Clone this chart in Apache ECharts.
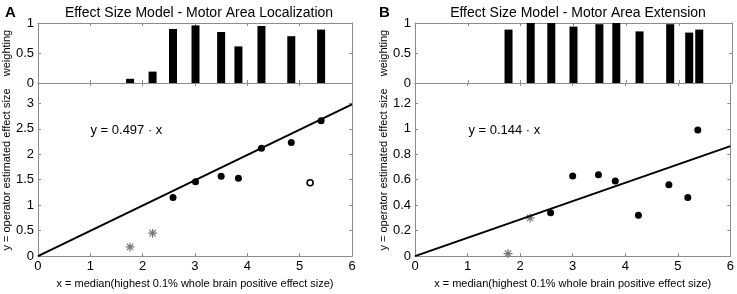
<!DOCTYPE html>
<html>
<head>
<meta charset="utf-8">
<script src="https://cdn.jsdelivr.net/npm/echarts@6/dist/echarts.min.js"></script>
<style>
  html, body { margin: 0; padding: 0; background: #fff; }
  #chart { width: 737px; height: 294px; }
</style>
</head>
<body>
<div id="chart"></div>
<script>
// panel A - localization
var locStarX = [1.76, 2.19];
var locStarY = [0.18, 0.45];
var locDotX = [2.58, 3.01, 3.5, 3.83, 4.27, 4.84, 5.41];
var locDotY = [1.15, 1.46, 1.57, 1.53, 2.12, 2.23, 2.66];
var locOpenX = [5.2];
var locOpenY = [1.44];
var locBarX = [1.76, 2.19, 2.58, 3.01, 3.5, 3.83, 4.27, 4.84, 5.41];
var locBarW = [0.07, 0.19, 0.9, 0.96, 0.85, 0.61, 0.95, 0.78, 0.89];
var locSlope = 0.497;

// panel B - extension
var extStarX = [1.77, 2.19];
var extStarY = [0.02, 0.30];
var extDotX = [2.58, 3.0, 3.49, 3.81, 4.25, 4.83, 5.19, 5.38];
var extDotY = [0.34, 0.63, 0.64, 0.59, 0.32, 0.56, 0.46, 0.99];
var extBarX = [1.77, 2.19, 2.58, 3.0, 3.49, 3.81, 4.25, 4.83, 5.19, 5.38];
var extBarW = [0.89, 1, 1, 0.94, 0.98, 1, 0.86, 0.98, 0.84, 0.89];
var extSlope = 0.144;

var titles = ['Effect Size Model - Motor Area Localization', 'Effect Size Model - Motor Area Extension'];
var xName = 'x = median(highest 0.1% whole brain positive effect size)';
var yNameTop = 'weighting';
var yNameBottom = 'y = operator estimated effect size';

var FONT = 'Liberation Sans';
var AXIS_COLOR = '#8c8c8c';
var STAR = 'path://M0,-5L0,5M-5,0L5,0M-3.5,-3.5L3.5,3.5M-3.5,3.5L3.5,-3.5';

var zip = function(xs, ys){
    var out = [];
    for (var i = 0; i < xs.length; i++) out.push([xs[i], ys[i]]);
    return out;
};

var grids = [
    {left: 37, top: 23, width: 315, height: 60},
    {left: 37, top: 83, width: 315, height: 179},
    {left: 415, top: 23, width: 317, height: 60},
    {left: 415, top: 83, width: 317, height: 179}
];

var xAxes = [];
var yAxes = [];

var baseAxis = function(extra){
    var a = {
        type: 'value',
        axisLine: {show: true, onZero: false, lineStyle: {color: AXIS_COLOR, width: 1}},
        axisTick: {show: true, inside: true, length: 3, lineStyle: {color: AXIS_COLOR}},
        splitLine: {show: false},
        axisLabel: {show: false}
    };
    for (var k in extra) a[k] = extra[k];
    return a;
};

var yMax = [1, 3.4, 1, 1.36];
var yInt = [0.5, 0.5, 0.5, 0.2];

for (var g = 0; g < 4; g++) {
    var isBottom = (g % 2 === 1);
    xAxes.push(baseAxis({
        gridIndex: g, position: 'bottom', min: 0, max: 6, interval: 1,
        name: isBottom ? xName : '',
        nameLocation: 'middle', nameGap: 17,
        nameTextStyle: {fontFamily: FONT, fontSize: 11, color: '#000'},
        axisLabel: {show: isBottom, margin: 4, fontFamily: FONT, fontSize: 13, color: '#000'}
    }));
    xAxes.push(baseAxis({gridIndex: g, position: 'top', min: 0, max: 6, interval: 1}));
    yAxes.push(baseAxis({
        gridIndex: g, position: 'left', min: 0, max: yMax[g], interval: yInt[g],
        name: isBottom ? yNameBottom : yNameTop,
        nameLocation: 'middle', nameGap: 24, nameRotate: 90,
        nameTextStyle: {fontFamily: FONT, fontSize: 11, color: '#000'},
        axisLabel: {show: true, margin: 4, fontFamily: FONT, fontSize: 13, color: '#000', showMaxLabel: yMax[g] === 1}
    }));
    yAxes.push(baseAxis({gridIndex: g, position: 'right', min: 0, max: yMax[g], interval: yInt[g]}));
}

var panelSeries = function(gTop, gBot, barX, barW, starX, starY, dotX, dotY, openX, openY, slope, eq, eqPos){
    var s = [];
    s.push({
        type: 'bar', xAxisIndex: gTop * 2, yAxisIndex: gTop * 2,
        data: zip(barX, barW), barWidth: 8,
        itemStyle: {color: '#000'}, silent: true
    });
    s.push({
        type: 'line', xAxisIndex: gBot * 2, yAxisIndex: gBot * 2,
        data: [[0, 0], [6, 6 * slope]], symbol: 'none',
        lineStyle: {color: '#000', width: 2}, silent: true
    });
    s.push({
        type: 'scatter', xAxisIndex: gBot * 2, yAxisIndex: gBot * 2,
        data: zip(starX, starY), symbol: STAR, symbolSize: 9,
        itemStyle: {color: 'rgba(0,0,0,0)', borderColor: '#777', borderWidth: 1.2, opacity: 1}
    });
    s.push({
        type: 'scatter', xAxisIndex: gBot * 2, yAxisIndex: gBot * 2,
        data: zip(dotX, dotY), symbol: 'circle', symbolSize: 7,
        itemStyle: {color: '#000', opacity: 1}
    });
    if (openX.length) {
        s.push({
            type: 'scatter', xAxisIndex: gBot * 2, yAxisIndex: gBot * 2,
            data: zip(openX, openY), symbol: 'circle', symbolSize: 6,
            itemStyle: {color: '#fff', borderColor: '#000', borderWidth: 1.6, opacity: 1}
        });
    }
    s.push({
        type: 'scatter', xAxisIndex: gBot * 2, yAxisIndex: gBot * 2,
        data: [eqPos], symbolSize: 1, itemStyle: {color: 'rgba(0,0,0,0)', opacity: 1},
        label: {show: true, position: 'inside', formatter: eq, fontFamily: FONT, fontSize: 13, color: '#000'}
    });
    return s;
};

var series = [].concat(
    panelSeries(0, 1, locBarX, locBarW, locStarX, locStarY, locDotX, locDotY, locOpenX, locOpenY, locSlope,
        'y = 0.497 \u00b7 x', [1.69, 2.47]),
    panelSeries(2, 3, extBarX, extBarW, extStarX, extStarY, extDotX, extDotY, [], [], extSlope,
        'y = 0.144 \u00b7 x', [1.70, 0.99])
);

var option = {
    animation: false,
    backgroundColor: '#fff',
    title: [
        {text: titles[0], left: 194, top: 1, textAlign: 'center',
         textStyle: {fontFamily: FONT, fontSize: 14, fontWeight: 'normal', color: '#000'}},
        {text: titles[1], left: 573, top: 1, textAlign: 'center',
         textStyle: {fontFamily: FONT, fontSize: 14, fontWeight: 'normal', color: '#000'}}
    ],
    graphic: [
        {type: 'text', left: 5, top: 5, style: {text: 'A', font: 'bold 15px ' + FONT, fill: '#000'}},
        {type: 'text', left: 379, top: 5, style: {text: 'B', font: 'bold 15px ' + FONT, fill: '#000'}}
    ],
    grid: grids,
    xAxis: xAxes,
    yAxis: yAxes,
    series: series
};

var myChart = echarts.init(document.getElementById('chart'));
myChart.setOption(option);
</script>
</body>
</html>
